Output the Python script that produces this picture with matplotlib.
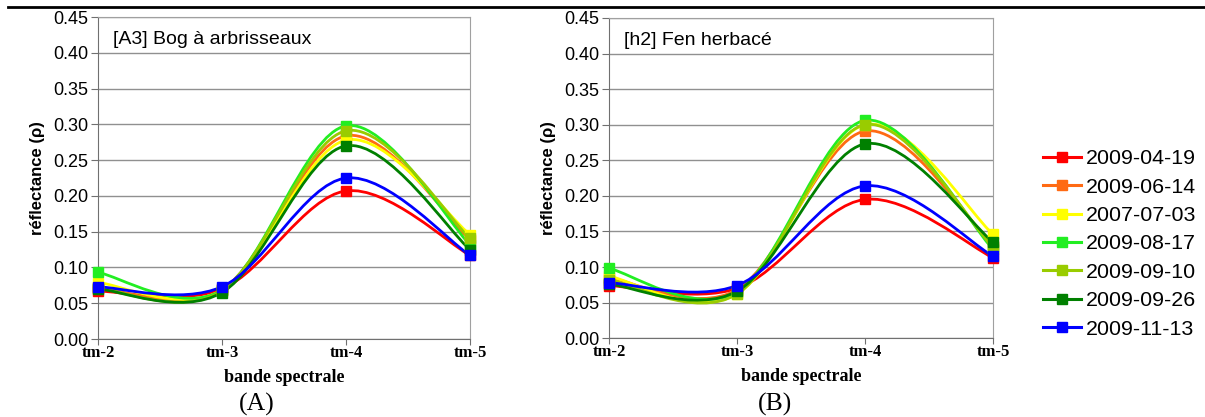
import numpy as np
import matplotlib
matplotlib.use("Agg")
import matplotlib.pyplot as plt
from matplotlib.path import Path
from matplotlib.patches import PathPatch
from matplotlib.lines import Line2D

bands = ["tm-2", "tm-3", "tm-4", "tm-5"]
dates = ["2009-04-19", "2009-06-14", "2007-07-03", "2009-08-17",
         "2009-09-10", "2009-09-26", "2009-11-13"]
colors = ["#ff0000", "#ff6a13", "#ffff00", "#22ee22",
          "#99cc00", "#008000", "#0000ff"]

# [A3] Bog a arbrisseaux
bog_0419 = [0.067, 0.070, 0.207, 0.117]
bog_0614 = [0.072, 0.069, 0.284, 0.139]
bog_0703 = [0.079, 0.068, 0.278, 0.146]
bog_0817 = [0.093, 0.068, 0.298, 0.132]
bog_0910 = [0.071, 0.067, 0.291, 0.141]
bog_0926 = [0.070, 0.065, 0.270, 0.125]
bog_1113 = [0.073, 0.073, 0.225, 0.117]

# [h2] Fen herbace
fen_0419 = [0.074, 0.070, 0.195, 0.113]
fen_0614 = [0.085, 0.068, 0.291, 0.130]
fen_0703 = [0.087, 0.062, 0.300, 0.146]
fen_0817 = [0.098, 0.065, 0.306, 0.125]
fen_0910 = [0.082, 0.062, 0.300, 0.128]
fen_0926 = [0.076, 0.066, 0.273, 0.135]
fen_1113 = [0.078, 0.074, 0.214, 0.115]

bog = [bog_0419, bog_0614, bog_0703, bog_0817, bog_0910, bog_0926, bog_1113]
fen = [fen_0419, fen_0614, fen_0703, fen_0817, fen_0910, fen_0926, fen_1113]


def smooth_path(x, y):
    # Excel-like smoothed line: cubic Bezier through the points
    pts = np.column_stack([x, y]).astype(float)
    n = len(pts)
    verts = [pts[0]]
    codes = [Path.MOVETO]
    for i in range(n - 1):
        p_prev = pts[max(i - 1, 0)]
        p0 = pts[i]
        p1 = pts[i + 1]
        p_next = pts[min(i + 2, n - 1)]
        c1 = p0 + (p1 - p_prev) / 6.0
        c2 = p1 - (p_next - p0) / 6.0
        verts += [c1, c2, p1]
        codes += [Path.CURVE4] * 3
    return Path(verts, codes)


def draw_panel(ax, series, label):
    x = np.arange(len(bands))
    for vals, c in zip(series, colors):
        ax.add_patch(PathPatch(smooth_path(x, vals), fill=False,
                               edgecolor=c, lw=2, zorder=3, clip_on=False))
        ax.plot(x, vals, ls="none", marker="s", ms=6.5, color=c, zorder=4,
                clip_on=False)
    ax.set_xlim(0, 3)
    ax.set_ylim(0, 0.45)
    ticks = np.arange(0, 0.451, 0.05)
    ax.set_yticks(ticks)
    ax.set_yticklabels([f"{v:.2f}" for v in ticks],
                       fontsize=13, family="Liberation Sans")
    ax.set_xticks(x)
    ax.set_xticklabels(bands, fontsize=12, family="Liberation Serif",
                       fontweight="bold")
    ax.grid(axis="y", color="#909090", lw=1)
    ax.set_axisbelow(True)
    for s in ["top", "right"]:
        ax.spines[s].set_color("#a0a0a0")
    for s in ["left", "bottom"]:
        ax.spines[s].set_color("#707070")
    ax.tick_params(axis="y", length=5, color="#707070", pad=2)
    ax.tick_params(axis="x", length=4, color="#707070", pad=0)
    ax.set_xlabel("bande spectrale", fontsize=13, family="Liberation Serif",
                  fontweight="bold", labelpad=6)
    ax.set_ylabel("réflectance (ρ)", fontsize=12, family="Liberation Sans",
                  fontweight="bold", labelpad=6)
    ax.text(0.04, 0.93, label, transform=ax.transAxes, fontsize=14,
            family="Liberation Sans", va="center")


fig = plt.figure(figsize=(12.05, 4.17), dpi=100)
ax1 = fig.add_axes([0.0813, 0.187, 0.3087, 0.772])
ax2 = fig.add_axes([0.5054, 0.189, 0.3187, 0.768])

draw_panel(ax1, bog, "[A3] Bog à arbrisseaux")
draw_panel(ax2, fen, "[h2] Fen herbacé")

fig.text(0.213, 0.031, "(A)", fontsize=18.5, family="Liberation Serif",
         ha="center", va="center")
fig.text(0.643, 0.031, "(B)", fontsize=18.5, family="Liberation Serif",
         ha="center", va="center")

fig.add_artist(Line2D([0.007, 1.0], [0.983, 0.983], color="black", lw=2))

handles = [Line2D([], [], color=c, lw=2.2, marker="s", ms=7) for c in colors]
fig.legend(handles, dates, loc="center left", bbox_to_anchor=(0.8535, 0.415),
           frameon=False, handlelength=1.75, handletextpad=0.25,
           labelspacing=0.44, borderpad=0.2,
           prop={"family": "Liberation Sans", "size": 15.4})

fig.savefig("out.png", dpi=100)
